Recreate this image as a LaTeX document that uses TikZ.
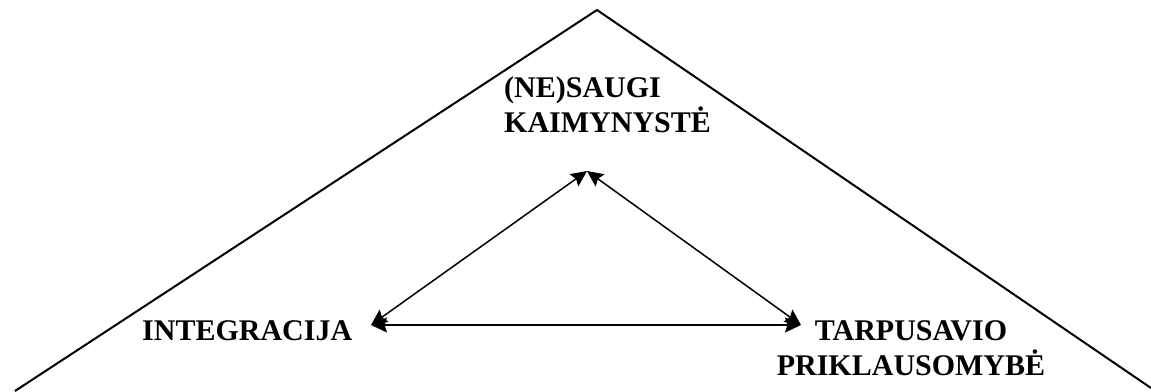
\documentclass[tikz,border=0pt]{standalone}
\usepackage{fontspec}
\setmainfont{Liberation Serif}
\usetikzlibrary{arrows.meta}
\begin{document}
\begin{tikzpicture}[x=1pt,y=-1pt,
  lbl/.style={font=\fontsize{30}{35}\selectfont\bfseries, inner sep=0pt},
  roof/.style={line width=2pt},
  link/.style={line width=1.5pt, {Stealth[length=16pt,width=15pt,inset=2.5pt]}-{Stealth[length=16pt,width=15pt,inset=2.5pt]}}]
\useasboundingbox (0,0) rectangle (1151,391);
\coordinate (rl) at (15,391);
\coordinate (apex) at (597,10);
\coordinate (rr) at (1151,388);
\draw[roof] (rl) -- (apex) -- (rr);
\coordinate (top) at (587,171);
\coordinate (left) at (371,325);
\coordinate (right) at (801,325);
\draw[link] (left) -- (top);
\draw[link] (top) -- (right);
\draw[link] (left) -- (right);
\node[lbl, anchor=base west] (ne1) at (504,97) {(NE)SAUGI};
\node[lbl, anchor=base west] (ne2) at (504,132) {KAIMYNYSTĖ};
\node[lbl, anchor=base west] (int) at (142,340) {INTEGRACIJA};
\node[lbl, anchor=base] (tp1) at (911,340) {TARPUSAVIO};
\node[lbl, anchor=base] (tp2) at (911,375) {PRIKLAUSOMYBĖ};
\end{tikzpicture}
\end{document}
